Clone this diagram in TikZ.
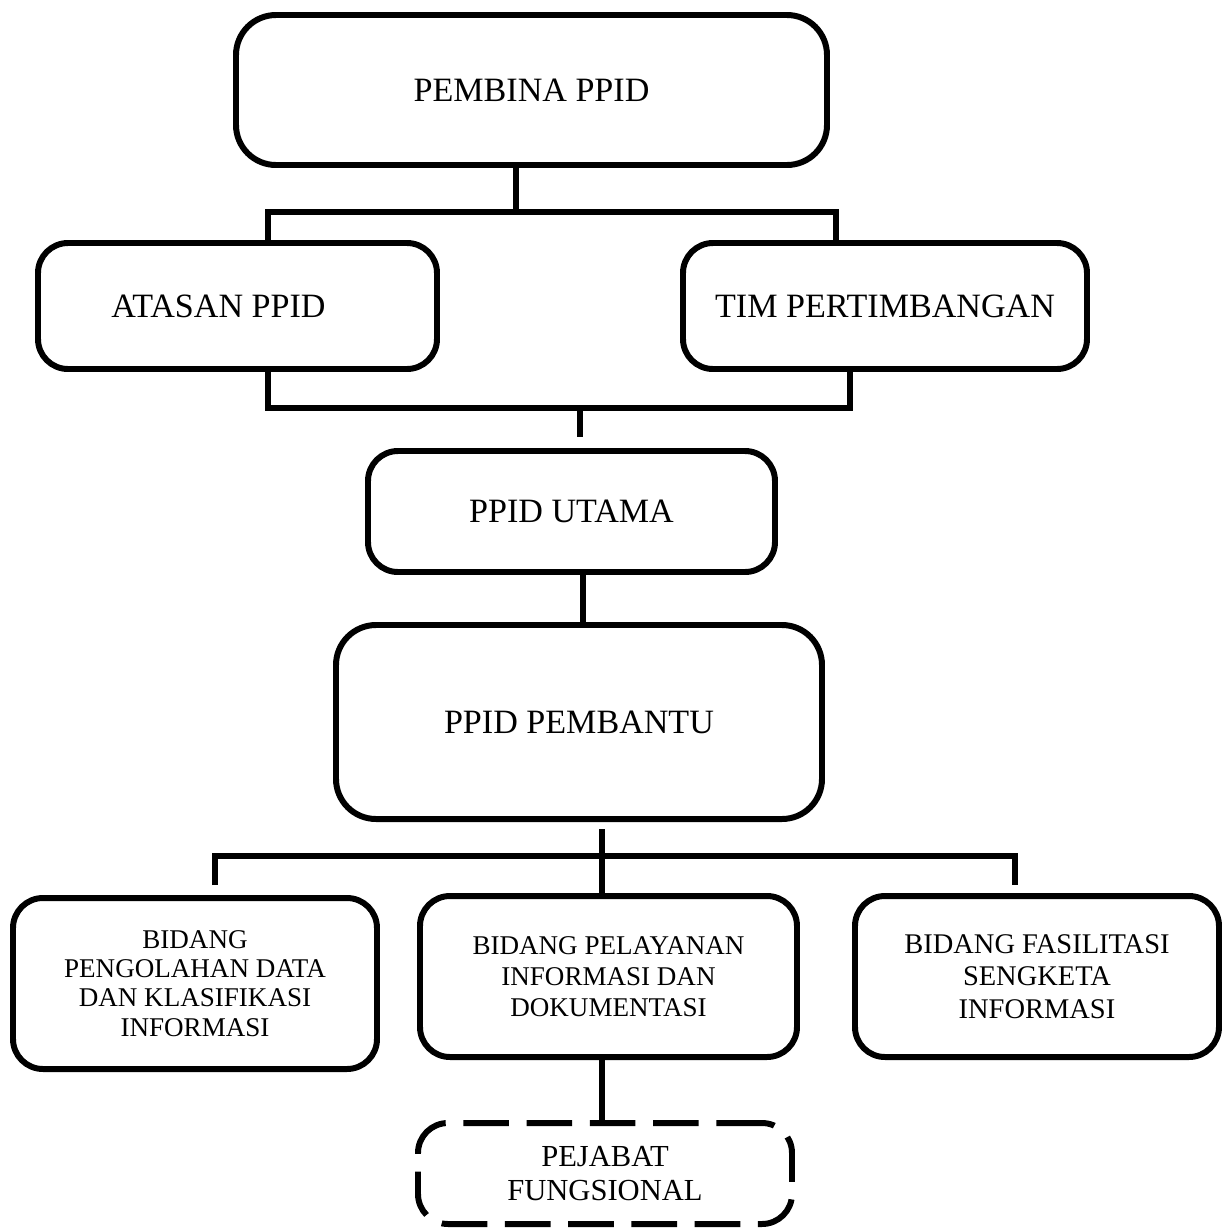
\documentclass[tikz,border=0pt]{standalone}
\usepackage{fontspec}
\setmainfont{Liberation Serif}
\usepackage{tikz}
\usetikzlibrary{positioning}

\begin{document}
\begin{tikzpicture}[line width = 1.5pt]
	\tikzstyle{every node} = [draw = black, line width = 1.7pt, rounded corners = 0.3cm, align = center]
	\tikzstyle{big} = [font = \fontsize{9.7}{11.5}\selectfont]
	\tikzstyle{small} = [font = \fontsize{7.7}{8.9}\selectfont]
\useasboundingbox (0,0) rectangle (12.26,-12.29);
\node[big, rounded corners = 0.4cm, minimum width = 5.91cm, minimum height = 1.50cm] (pembina) at (5.315,-0.90) {PEMBINA PPID};
\node[big, minimum width = 3.99cm, minimum height = 1.26cm] (atasan) at (2.375,-3.06) {ATASAN PPID\kern0.38cm};
\node[big, minimum width = 4.04cm, minimum height = 1.26cm] (tim) at (8.85,-3.06) {TIM PERTIMBANGAN};
\node[big, minimum width = 4.07cm, minimum height = 1.21cm] (utama) at (5.715,-5.115) {PPID UTAMA};
\node[big, rounded corners = 0.4cm, minimum width = 4.86cm, minimum height = 1.94cm] (pembantu) at (5.79,-7.22) {PPID PEMBANTU};
\node[small, font = \fontsize{7.7}{8.3}\selectfont, minimum width = 3.64cm, minimum height = 1.71cm] (pengolahan) at (1.95,-9.835) {BIDANG\\PENGOLAHAN DATA\\DAN KLASIFIKASI\\INFORMASI};
\node[small, minimum width = 3.77cm, minimum height = 1.61cm] (pelayanan) at (6.085,-9.765) {BIDANG PELAYANAN\\INFORMASI DAN\\DOKUMENTASI};
\node[small, font = \fontsize{8.1}{9.2}\selectfont, minimum width = 3.64cm, minimum height = 1.61cm] (fasilitasi) at (10.37,-9.765) {BIDANG FASILITASI\\SENGKETA\\INFORMASI};
\node[small, font = \fontsize{8.7}{9.9}\selectfont, dash pattern = on 13pt off 5pt, minimum width = 3.74cm, minimum height = 1.01cm] (pejabat) at (6.05,-11.735) {PEJABAT\\FUNGSIONAL};
% junctions
\coordinate (a1) at (5.16,-2.12);
\coordinate (l1) at (2.68,-2.12);
\coordinate (r1) at (8.36,-2.12);
\coordinate (l2) at (2.68,-4.08);
\coordinate (r2) at (8.50,-4.08);
\coordinate (m2) at (5.80,-4.08);
\coordinate (e2) at (5.80,-4.37);
\coordinate (c3) at (5.83,-5.97);
\coordinate (s4) at (6.02,-8.29);
\coordinate (l4) at (2.15,-8.56);
\coordinate (r4) at (10.15,-8.56);
\coordinate (l4e) at (2.15,-8.85);
\coordinate (r4e) at (10.15,-8.85);
	\path[draw] (pembina.south -| a1) -- (a1);
	\path[draw] (atasan.north -| l1) -- (l1) -- (r1) -- (tim.north -| r1);
	\path[draw] (atasan.south -| l2) -- (l2) -- (r2) -- (tim.south -| r2);
	\path[draw] (m2) -- (e2);
	\path[draw] (utama.south -| c3) -- (pembantu.north -| c3);
	\path[draw] (s4) -- (pelayanan.north -| s4);
	\path[draw] (l4e) -- (l4) -- (r4) -- (r4e);
	\path[draw] (pelayanan.south -| s4) -- (pejabat.north -| s4);
\end{tikzpicture}
\end{document}
